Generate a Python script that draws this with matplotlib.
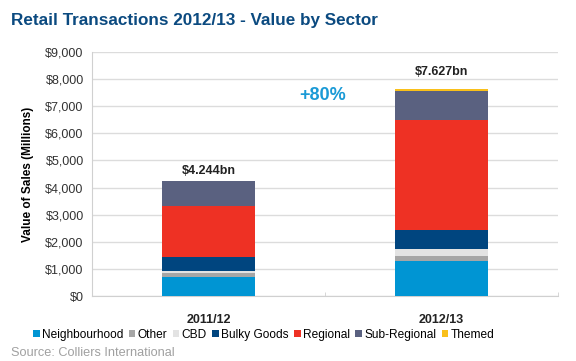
import matplotlib.pyplot as plt
import numpy as np

plt.rcParams['font.family'] = ['Liberation Sans', 'DejaVu Sans']

periods = ['2011/12', '2012/13']
sectors = ['Neighbourhood', 'Other', 'CBD', 'Bulky Goods', 'Regional', 'Sub-Regional', 'Themed']
# value of sales, $ millions
values = {
    'Neighbourhood': [700, 1290],
    'Other':         [145, 185],
    'CBD':           [85, 255],
    'Bulky Goods':   [505, 700],
    'Regional':      [1885, 4075],
    'Sub-Regional':  [924, 1065],
    'Themed':        [0, 57],
}
totals_text = ['$4.244bn', '$7.627bn']
growth_text = '+80%'
colors = ['#0095d3', '#a6a6a6', '#e3e3e3', '#00457f', '#ee3124', '#5a6180', '#f9c01b']

fig = plt.figure(figsize=(5.76, 3.61), dpi=100)
ax = fig.add_axes([92/576, 1 - 296/361, 466/576, 244/361])

x = np.arange(len(periods))
bottom = np.zeros(len(periods))
for name, col in zip(sectors, colors):
    v = np.array(values[name], dtype=float)
    ax.bar(x, v, 0.40, bottom=bottom, color=col, label=name, zorder=3)
    bottom += v

# label offsets above each stack (Excel put them at slightly different heights)
label_gap = [370, 650]
for xi, tot, txt, gap in zip(x, bottom, totals_text, label_gap):
    ax.text(xi, tot + gap, txt, ha='center', va='center', fontsize=9, fontweight='bold', color='#222222')

ax.text(0.49, 7400, growth_text, ha='center', va='center', fontsize=13, fontweight='bold', color='#1a9ad6')

ax.set_xlim(-0.5, 1.5)
ax.set_ylim(0, 9000)
ax.set_yticks(np.arange(0, 9001, 1000))
ax.set_yticklabels(['${:,}'.format(t) for t in range(0, 9001, 1000)], fontsize=9, color='#333333')
ax.set_xticks(x)
ax.set_xticklabels(periods, fontsize=9, fontweight='bold', color='#222222')
ax.set_xticks([0.5, 1.5], minor=True)
ax.tick_params(axis='both', which='major', length=0, pad=6)
ax.tick_params(axis='x', which='major', pad=13)
ax.tick_params(axis='x', which='minor', direction='in', length=3, color='#d0d0d0')
ax.grid(axis='y', color='#dcdcdc', linewidth=1, zorder=0)
for s in ['top', 'right']:
    ax.spines[s].set_visible(False)
for s in ['left', 'bottom']:
    ax.spines[s].set_color('#d0d0d0')
ax.set_ylabel('Value of Sales (Millions)', fontsize=8.5, fontweight='bold', labelpad=8)

handles, labels = ax.get_legend_handles_labels()
fig.legend(handles, labels, loc='center', bbox_to_anchor=(0.458, 1 - 335/361), ncol=7,
           frameon=False, fontsize=8.6, handlelength=0.55, handleheight=0.55,
           handletextpad=0.2, columnspacing=0.45, borderpad=0)

fig.text(11/576, 1 - 21/361, 'Retail Transactions 2012/13 - Value by Sector',
         fontsize=12.3, fontweight='bold', color='#0b4a80', va='center', ha='left')
fig.text(11/576, 1 - 352.5/361, 'Source: Colliers International', fontsize=9.2,
         color='#a0a0a0', va='center', ha='left')

fig.savefig('out.png', dpi=100)
